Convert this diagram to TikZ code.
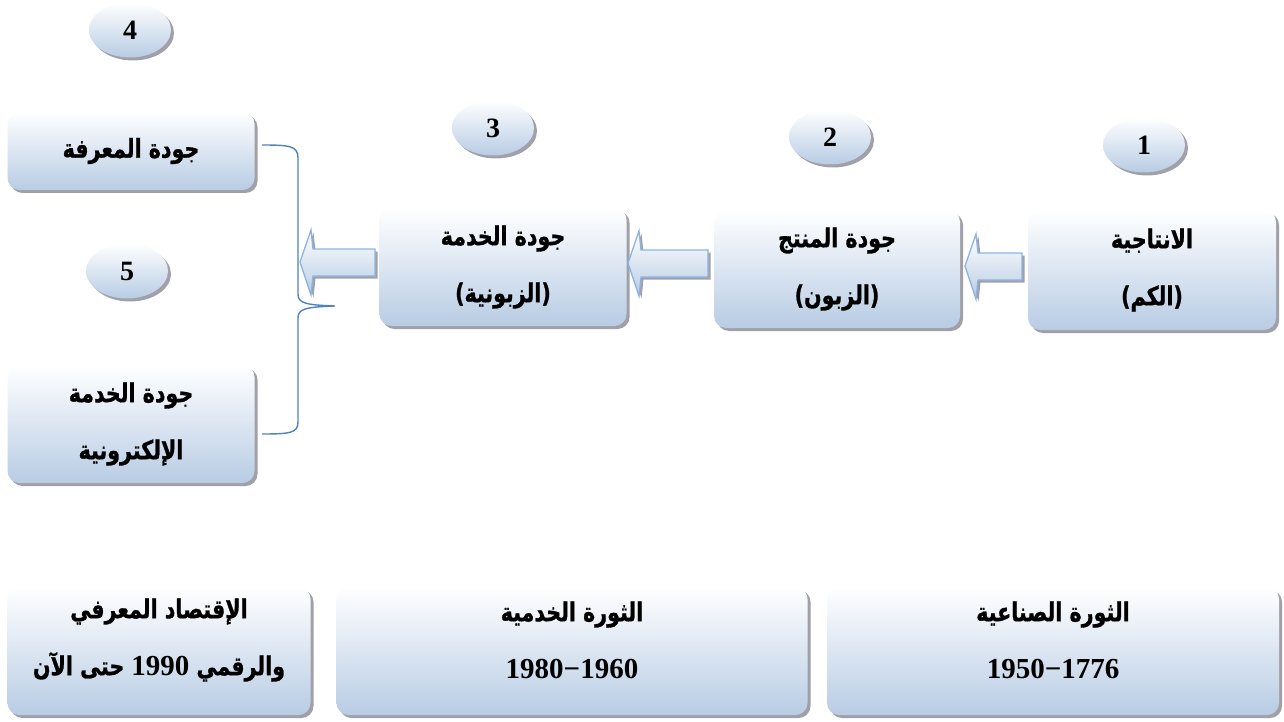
\documentclass[tikz,border=0pt]{standalone}
\usepackage{fontspec}
\setmainfont{Liberation Serif}
\newfontfamily\arabicfont[Script=Arabic, BoldFeatures={FakeBold=1.2}]{DejaVu Sans}
\TeXXeTstate=1
\usetikzlibrary{shapes.geometric,shadows,calc}
\definecolor{boxblue}{RGB}{184,204,228}
\definecolor{bracecol}{RGB}{79,129,189}
\definecolor{arrowedge}{RGB}{141,179,226}
\definecolor{shadowgray}{RGB}{150,150,160}
\newcommand{\AR}[1]{\scalebox{1.03}[1.3]{\arabicfont\bfseries\beginR #1\endR}}
\newcommand{\NUM}[1]{{\rmfamily\bfseries\fontsize{29}{30}\selectfont #1}}
\newcommand{\INNUM}[1]{\scalebox{0.97}[0.77]{\NUM{#1}}}
\newcommand{\blockarrow}[4]{%
  \path[blockarr] (#2,#4) coordinate (#1) -- (#2+11,#4-32) -- (#2+13,#4-13) -- (#3,#4-13)
    -- (#3,#4+14) -- (#2+13,#4+14) -- (#2+11,#4+33) -- cycle;}
\tikzset{
  shade/.style={top color=white, bottom color=boxblue,
    drop shadow={shadow xshift=3pt, shadow yshift=-3pt, fill=shadowgray, opacity=0.9}},
  box/.style={shade, rectangle, rounded corners=12pt, draw=none, inner sep=0pt,
    align=center, font=\fontsize{20}{57}\selectfont},
  circ/.style={shade, ellipse, minimum width=82pt, minimum height=55pt, inner sep=0pt,
    font=\fontsize{28}{30}\selectfont\bfseries},
  txt/.style={align=center, font=\fontsize{20}{57}\selectfont},
  blockarr/.style={top color=white, bottom color=boxblue, draw=arrowedge, line width=1.3pt,
    drop shadow={shadow xshift=2.5pt, shadow yshift=-2.5pt, fill=shadowgray, opacity=0.9}},
  brace/.style={draw=bracecol, line width=1.4pt}
}
\begin{document}
\begin{tikzpicture}[x=1pt,y=-1pt]
\useasboundingbox (0,0) rectangle (1284,722);
% top row
\node[box, minimum width=248pt, minimum height=120pt] (b1) at (1152,270)
  {\AR{الانتاجية}\\\AR{(الكم)}};
\node[box, minimum width=246pt, minimum height=118pt] (b2) at (837,269)
  {\AR{جودة المنتج}\\\AR{(الزبون)}};
\node[box, minimum width=247pt, minimum height=118pt] (b3) at (503,267)
  {\AR{جودة الخدمة}\\\AR{(الزبونية)}};
\node[box, minimum width=247pt, minimum height=78pt] (b4) at (131,151)
  {\AR{جودة المعرفة}};
\node[box, minimum width=247pt, minimum height=118pt] (b5) at (131,424)
  {\AR{جودة الخدمة}\\\AR{الإلكترونية}};
% circles
\node[circ] (c1) at (1144,145) {1};
\node[circ] (c2) at (830,137) {2};
\node[circ] (c3) at (493,128) {3};
\node[circ] (c4) at (130,30) {4};
\node[circ] (c5) at (127,271) {5};
% block arrows
\blockarrow{a12}{965}{1022}{266}
\blockarrow{a23}{628}{708}{263}
\blockarrow{a3b}{300}{375}{262}
% brace
\coordinate (brtop) at (262,145);
\coordinate (brtip) at (335,306);
\coordinate (brbot) at (262,434);
\draw[brace] (brtop) .. controls (290,145) and (298,146) .. (298,158) -- (298,294)
  .. controls (298,303) and (305,305) .. (brtip)
  .. controls (305,307) and (298,309) .. (298,318) -- (298,422)
  .. controls (298,433) and (290,434) .. (brbot);
% bottom row
\node[box, minimum width=303pt, minimum height=128pt] (r3) at (159,651) {};
\node[box, minimum width=471pt, minimum height=128pt] (r2) at (572,651) {};
\node[box, minimum width=452pt, minimum height=128pt] (r1) at (1053,651) {};
\node[txt] (t3) at ($(r3.center)+(0,-11)$)
  {\AR{الإقتصاد المعرفي}\\\AR{والرقمي \beginL\INNUM{1990}\endL{} حتى الآن}};
\node[txt] (t2) at ($(r2.center)+(0,-11)$)
  {\AR{الثورة الخدمية}\\\NUM{1980\char"2212 1960}};
\node[txt] (t1) at ($(r1.center)+(0,-11)$)
  {\AR{الثورة الصناعية}\\\NUM{1950\char"2212 1776}};
\end{tikzpicture}
\end{document}
